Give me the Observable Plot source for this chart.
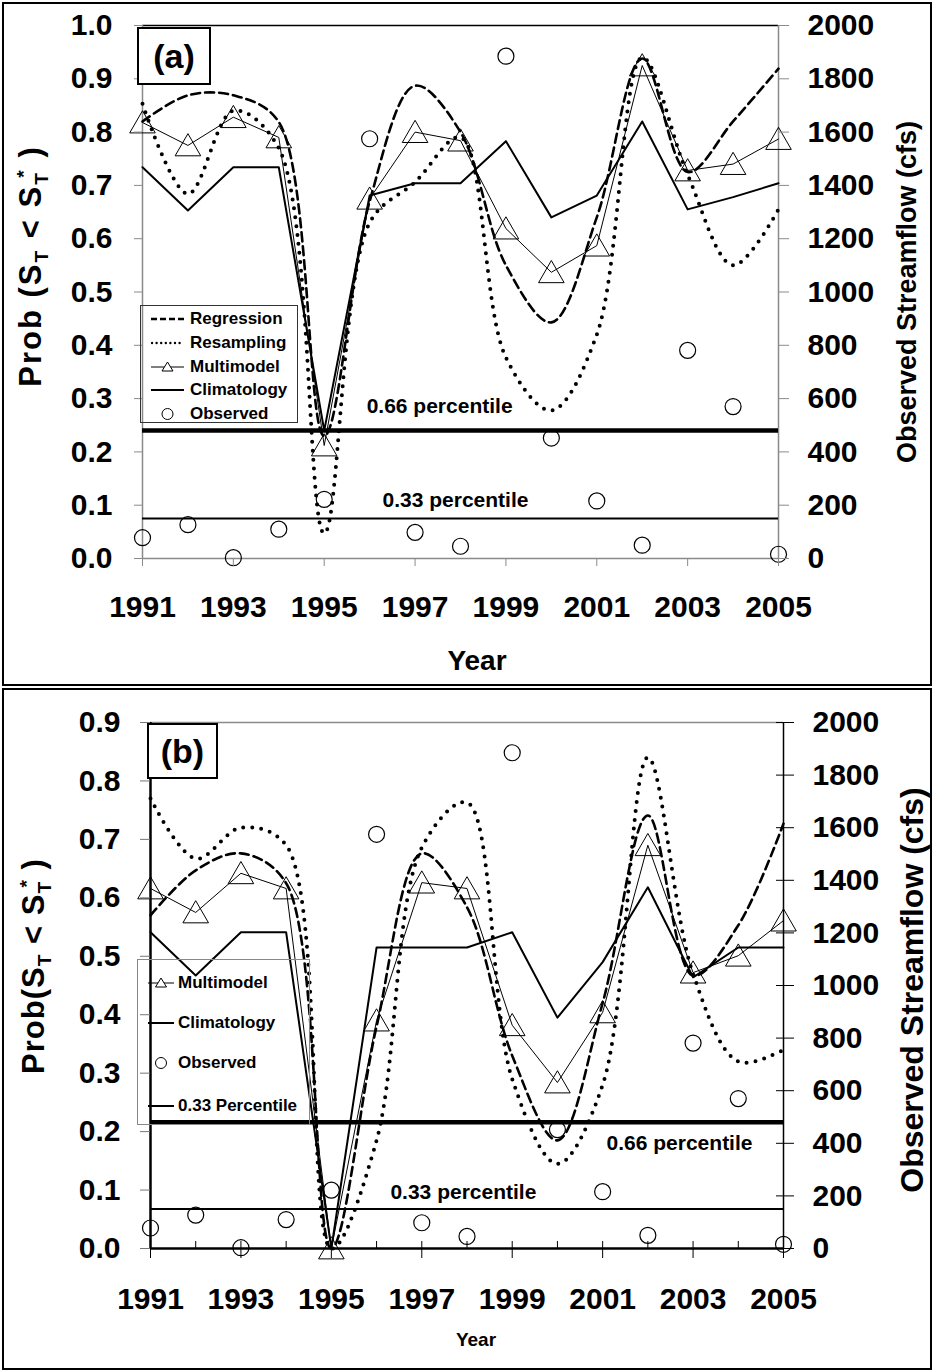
<!DOCTYPE html>
<html>
<head>
<meta charset="utf-8">
<script src="https://cdn.jsdelivr.net/npm/d3@7"></script>
<script src="https://cdn.jsdelivr.net/npm/@observablehq/plot@0.6"></script>
<style>
  body { margin: 0; background: #fff; }
  #page { position: relative; width: 934px; height: 1371px; font-family: "Liberation Sans", Arial, Helvetica, sans-serif; color: #000; }
  .abs { position: absolute; white-space: nowrap; }
  .panelBorder { position: absolute; border: 2px solid #000; box-sizing: border-box; }
  .tag { position: absolute; border: 2px solid #000; box-sizing: border-box; background: #fff;
         font-weight: bold; display: flex; align-items: center; justify-content: center; }
  .legend { position: absolute; box-sizing: border-box; }
  .legend .row { position: absolute; transform: translateY(-50%); display: flex; align-items: center;
                 font-weight: bold; font-size: 17px; white-space: nowrap; }
  .vtitle { position: absolute; font-weight: bold; white-space: nowrap; transform: translate(-50%, -50%) rotate(-90deg); }
  sub, sup { font-size: 0.62em; }
</style>
</head>
<body>
<div id="page"></div>
<script>
// ---- data -----------------------------------------------------------------
const years = [1991, 1992, 1993, 1994, 1995, 1996, 1997, 1998, 1999, 2000, 2001, 2002, 2003, 2004, 2005];
const labelledYears = [1991, 1993, 1995, 1997, 1999, 2001, 2003, 2005];
const otherYears = [1992, 1994, 1996, 1998, 2000, 2002, 2004];
const probTicksA = [0, 0.1, 0.2, 0.3, 0.4, 0.5, 0.6, 0.7, 0.8, 0.9, 1.0];
const probTicksB = [0, 0.1, 0.2, 0.3, 0.4, 0.5, 0.6, 0.7, 0.8, 0.9];
const flowTicks = [0, 200, 400, 600, 800, 1000, 1200, 1400, 1600, 1800, 2000];

// observed summer streamflow (cfs)
const observedCfs = [78, 127, 3, 110, 222, 1575, 98, 46, 1885, 452, 216, 50, 781, 570, 16];
// streamflow thresholds
const percentile66Cfs = [480];
const percentile33Cfs = [150];

// (a) probability of falling below the threshold
const regressionA  = [0.82, 0.869, 0.869, 0.819, 0.23, 0.67, 0.887, 0.80, 0.55, 0.443, 0.64, 0.938, 0.725, 0.82, 0.919];
const resamplingA  = [0.853, 0.684, 0.84, 0.77, 0.047, 0.63, 0.706, 0.79, 0.377, 0.278, 0.42, 0.94, 0.72, 0.55, 0.655];
const multimodelA  = [0.818, 0.775, 0.828, 0.79, 0.212, 0.675, 0.80, 0.784, 0.619, 0.537, 0.587, 0.925, 0.728, 0.74, 0.787];
const climatologyA = [0.734, 0.653, 0.734, 0.734, 0.24, 0.681, 0.704, 0.704, 0.783, 0.64, 0.681, 0.82, 0.655, 0.678, 0.704];

// (b) probability of falling below the threshold
const regressionB  = [0.57, 0.647, 0.676, 0.625, 0.0, 0.38, 0.676, 0.584, 0.33, 0.185, 0.42, 0.741, 0.467, 0.553, 0.727];
const resamplingB  = [0.77, 0.667, 0.72, 0.69, 0.0, 0.185, 0.686, 0.763, 0.29, 0.145, 0.28, 0.84, 0.47, 0.32, 0.34];
const multimodelB  = [0.616, 0.575, 0.642, 0.616, 0.0, 0.39, 0.626, 0.616, 0.382, 0.284, 0.404, 0.69, 0.472, 0.501, 0.561];
const climatologyB = [0.541, 0.467, 0.541, 0.541, 0.0, 0.515, 0.515, 0.515, 0.541, 0.395, 0.49, 0.618, 0.464, 0.515, 0.515];

// ---- styles ----------------------------------------------------------------
const FONT = "'Liberation Sans', Arial, Helvetica, sans-serif";
const W = 934;
const page = document.getElementById("page");

const lineStyles = {
  regression:  {stroke: "#000", strokeWidth: 2.6, strokeDasharray: "9,5", curve: "catmull-rom"},
  resampling:  {stroke: "#000", strokeWidth: 4, strokeDasharray: "0,9", strokeLinecap: "round", curve: "catmull-rom"},
  multimodel:  {stroke: "#000", strokeWidth: 1},
  climatology: {stroke: "#000", strokeWidth: 2}
};

function el(tag, cls, css, html) {
  const e = document.createElement(tag);
  if (cls) e.className = cls;
  Object.assign(e.style, css || {});
  if (html != null) e.innerHTML = html;
  page.appendChild(e);
  return e;
}

// ---- one panel: probabilities on the left axis, streamflow on the right ----
function drawPanel(c) {
  const cfsMax = flowTicks[flowTicks.length - 1];
  const toP = cfs => cfs / cfsMax * c.pMax;
  const rows = years.map((year, i) => ({
    year,
    regression: c.regression[i],
    resampling: c.resampling[i],
    multimodel: c.multimodel[i],
    climatology: c.climatology[i],
    observed: toP(observedCfs[i])
  }));
  const x0 = years[0], x1 = years[years.length - 1];
  const tickText = {fontSize: 30, fontWeight: "bold", fill: "#000", label: null};

  const svg = Plot.plot({
    width: W,
    height: c.height,
    marginLeft: c.mL, marginRight: c.mR, marginTop: c.mT, marginBottom: c.mB,
    x: {domain: [x0, x1]},
    y: {domain: [0, c.pMax]},
    style: {background: "transparent", fontFamily: FONT, color: "#000", overflow: "visible"},
    marks: [
      // plot-area outline
      Plot.ruleY([c.pMax], {stroke: c.topStroke, strokeWidth: 1.3}),
      Plot.ruleX([x0], {stroke: c.axisStroke, strokeWidth: c.axisWidth}),
      Plot.ruleX([x1], {stroke: c.axisStroke, strokeWidth: c.rightWidth}),
      Plot.ruleY([0], {stroke: c.axisStroke, strokeWidth: c.axisWidth}),

      // threshold lines and their labels
      Plot.ruleY(percentile66Cfs, {y: d => toP(d), stroke: "#000", strokeWidth: 4.5}),
      Plot.ruleY(percentile33Cfs, {y: d => toP(d), stroke: "#000", strokeWidth: 2}),
      Plot.text(percentile66Cfs, {x: () => c.label66.x, y: d => toP(d), dy: c.label66.dy, text: () => "0.66 percentile",
        fontSize: 21, fontWeight: "bold", fill: "#000"}),
      Plot.text(percentile33Cfs, {x: () => c.label33.x, y: d => toP(d), dy: c.label33.dy, text: () => "0.33 percentile",
        fontSize: 21, fontWeight: "bold", fill: "#000"}),

      // forecasts
      ...(c.seriesOrder.map(k => Plot.line(rows, {x: "year", y: k, ...lineStyles[k]}))),
      Plot.dot(rows, {x: "year", y: "multimodel", symbol: "triangle", r: 9.5, dy: 3, stroke: "#000", strokeWidth: 1, fill: "none"}),
      Plot.dot(rows, {x: "year", y: "observed", r: 8, stroke: "#000", strokeWidth: 1.2, fill: "none"}),

      // axes
      Plot.axisY({anchor: "left", ticks: c.probTicks, tickFormat: d3.format(".1f"),
        tickSize: c.leftTick, tickPadding: c.leftPad, stroke: c.leftTickStroke, ...tickText}),
      Plot.axisY({anchor: "right", ticks: flowTicks.map(toP), tickFormat: p => String(Math.round(p / c.pMax * cfsMax)),
        tickSize: c.rightTick, dx: c.rightDx, tickPadding: c.rightPad, stroke: c.rightTickStroke, ...tickText}),
      Plot.axisX({anchor: "bottom", ticks: labelledYears, tickFormat: d => String(d),
        tickSize: c.bottomTick, dy: c.bottomDy, tickPadding: c.bottomPad, stroke: c.bottomTickStroke, ...tickText}),
      ...(c.minorTicks ? [Plot.axisX({anchor: "bottom", ticks: otherYears, tickSize: 7, dy: -7,
        stroke: c.bottomTickStroke, fill: "none", label: null})] : [])
    ]
  });
  svg.style.position = "absolute";
  svg.style.left = "0px";
  svg.style.top = c.top + "px";
  page.appendChild(svg);
}

// ---- legend box --------------------------------------------------------------
function symbolSvg(kind, len) {
  const h = 14, m = h / 2;
  let s = "";
  if (kind === "regression") s = `<line x1="0" y1="${m}" x2="${len}" y2="${m}" stroke="#000" stroke-width="2.5" stroke-dasharray="6,3"/>`;
  if (kind === "resampling") s = `<line x1="1" y1="${m}" x2="${len}" y2="${m}" stroke="#000" stroke-width="2.4" stroke-dasharray="0,4.6" stroke-linecap="round"/>`;
  if (kind === "multimodel") s = `<line x1="0" y1="${m}" x2="${len}" y2="${m}" stroke="#000" stroke-width="1"/>` +
      `<polygon points="${len/2},${m-5} ${len/2+5.5},${m+4} ${len/2-5.5},${m+4}" fill="#fff" stroke="#000" stroke-width="1"/>`;
  if (kind === "climatology") s = `<line x1="0" y1="${m}" x2="${len}" y2="${m}" stroke="#000" stroke-width="2"/>`;
  if (kind === "threshold") s = `<line x1="0" y1="${m}" x2="${len}" y2="${m}" stroke="#000" stroke-width="2"/>`;
  if (kind === "observed") s = `<circle cx="${len/2}" cy="${m}" r="5.5" fill="none" stroke="#000" stroke-width="1"/>`;
  return `<svg width="${len}" height="${h}" style="display:block">${s}</svg>`;
}

function drawLegend(box) {
  const lg = el("div", "legend", {left: box.left + "px", top: box.top + "px", width: box.width + "px",
    height: box.height + "px", border: `1px solid ${box.border}`});
  box.entries.forEach((entry, i) => {
    const row = document.createElement("div");
    row.className = "row";
    row.style.left = box.symbolX + "px";
    row.style.top = box.rowY[i] + "px";
    row.innerHTML = `<span style="display:inline-block;width:${box.symbolLen}px">${symbolSvg(entry.kind, box.symbolLen)}</span>` +
      `<span style="margin-left:${box.gap}px">${entry.label}</span>`;
    lg.appendChild(row);
  });
}

// ---- panel (a) ---------------------------------------------------------------
drawPanel({
  top: 0, height: 686, mL: 142, mR: 156, mT: 25, mB: 128,
  pMax: 1.0, probTicks: probTicksA,
  regression: regressionA, resampling: resamplingA, multimodel: multimodelA, climatology: climatologyA,
  seriesOrder: ["regression", "resampling", "multimodel", "climatology"],
  topStroke: "#000", axisStroke: "#8a8a8a", axisWidth: 1.5, rightWidth: 1.5,
  leftTick: 8, leftPad: 22, leftTickStroke: "#8a8a8a",
  rightTick: 10, rightDx: 0, rightPad: 19, rightTickStroke: "#8a8a8a",
  bottomTick: 8, bottomDy: 0, bottomPad: 29, bottomTickStroke: "#8a8a8a", minorTicks: false,
  label66: {x: 1997.54, dy: -24}, label33: {x: 1997.89, dy: -18}
});

// ---- panel (b) ---------------------------------------------------------------
drawPanel({
  top: 688, height: 682, mL: 150, mR: 151, mT: 34, mB: 122,
  pMax: 0.9, probTicks: probTicksB,
  regression: regressionB, resampling: resamplingB, multimodel: multimodelB, climatology: climatologyB,
  seriesOrder: ["regression", "resampling", "multimodel", "climatology"],
  topStroke: "#8a8a8a", axisStroke: "#000", axisWidth: 2.5, rightWidth: 1.5,
  leftTick: 10, leftPad: 20, leftTickStroke: "#777",
  rightTick: 18, rightDx: -8, rightPad: 19, rightTickStroke: "#000",
  bottomTick: 17, bottomDy: -7, bottomPad: 29, bottomTickStroke: "#000", minorTicks: true,
  label66: {x: 2002.70, dy: 21}, label33: {x: 1997.92, dy: -17}
});

// ---- frames around the two panels ---------------------------------------------
el("div", "panelBorder", {left: "2px", top: "2px", width: "930px", height: "684px"});
el("div", "panelBorder", {left: "2px", top: "688px", width: "930px", height: "682px"});

// ---- panel tags ---------------------------------------------------------------
el("div", "tag", {left: "137px", top: "27px", width: "74px", height: "58px", fontSize: "34px"}, "(a)");
el("div", "tag", {left: "147px", top: "723px", width: "71px", height: "56px", fontSize: "34px"}, "(b)");

// ---- axis titles --------------------------------------------------------------
el("div", "vtitle", {left: "33px", top: "266px", fontSize: "31px", letterSpacing: "2px"},
  "Prob (S<sub>T</sub> &lt; S<sub>T</sub><sup style=\"margin-left:-0.35em\">*</sup> )");
el("div", "vtitle", {left: "36px", top: "966px", fontSize: "31px", letterSpacing: "1px"},
  "Prob(S<sub>T</sub> &lt; S<sub>T</sub><sup style=\"margin-left:-0.35em\">*</sup> )");
el("div", "vtitle", {left: "907px", top: "292px", fontSize: "27px"}, "Observed Streamflow (cfs)");
el("div", "vtitle", {left: "912px", top: "990px", fontSize: "32px"}, "Observed Streamflow (cfs)");
el("div", "abs", {left: "477px", top: "661px", transform: "translate(-50%,-50%)", fontSize: "28px", fontWeight: "bold"}, "Year");
el("div", "abs", {left: "476px", top: "1340px", transform: "translate(-50%,-50%)", fontSize: "19px", fontWeight: "bold"}, "Year");

// ---- legends ------------------------------------------------------------------
drawLegend({
  left: 140, top: 305, width: 158, height: 118, border: "#333",
  symbolX: 10, symbolLen: 33, gap: 6, rowY: [13, 37, 61, 84, 108],
  entries: [
    {label: "Regression", kind: "regression"},
    {label: "Resampling", kind: "resampling"},
    {label: "Multimodel", kind: "multimodel"},
    {label: "Climatology", kind: "climatology"},
    {label: "Observed", kind: "observed"}
  ]
});
drawLegend({
  left: 137, top: 959, width: 173, height: 166, border: "#888",
  symbolX: 10, symbolLen: 26, gap: 4, rowY: [23, 63, 103, 146],
  entries: [
    {label: "Multimodel", kind: "multimodel"},
    {label: "Climatology", kind: "climatology"},
    {label: "Observed", kind: "observed"},
    {label: "0.33 Percentile", kind: "threshold"}
  ]
});
</script>
</body>
</html>
